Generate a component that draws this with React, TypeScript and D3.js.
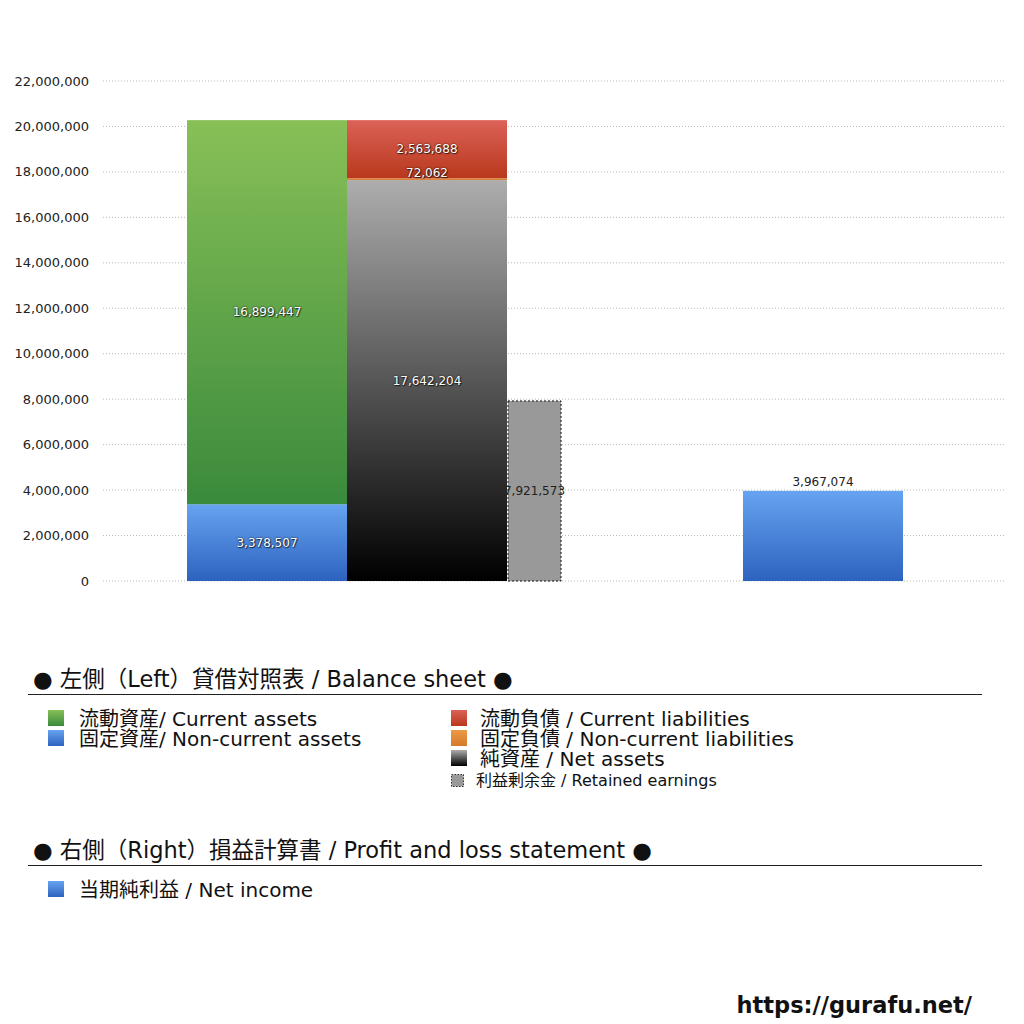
import React from "react";
import * as d3 from "d3";

// ---- data ----
const yTicks = [0, 2000000, 4000000, 6000000, 8000000, 10000000, 12000000, 14000000, 16000000, 18000000, 20000000, 22000000];
const categories = ["bs", "pl"];
const assetKeys = ["nonCurrentAssets", "currentAssets"];
const assetValues = [3378507, 16899447];
const liabilityKeys = ["netAssets", "nonCurrentLiabilities", "currentLiabilities"];
const liabilityValues = [17642204, 72062, 2563688];
const retainedEarnings = 7921573;
const netIncome = 3967074;

const bsTitle = "● 左側（Left）貸借対照表 / Balance sheet ●";
const plTitle = "● 右側（Right）損益計算書 / Profit and loss statement ●";
const leftLegend = ["流動資産/ Current assets", "固定資産/ Non-current assets"];
const rightLegend = ["流動負債 /  Current liabilities", "固定負債 / Non-current liabilities", "純資産 / Net assets"];
const retainedLegend = "利益剰余金 / Retained earnings";
const plLegend = "当期純利益 / Net income";
const footer = "https://gurafu.net/";

const gradients: Record<string, [string, string]> = {
  currentAssets: ["#88c057", "#3a8a3c"],
  nonCurrentAssets: ["#66a3f0", "#2d63bf"],
  currentLiabilities: ["#dc6258", "#b9381c"],
  nonCurrentLiabilities: ["#ec9a48", "#d5792a"],
  netAssets: ["#adadad", "#000000"],
  netIncome: ["#66a3f0", "#2d63bf"],
};

const fmt = d3.format(",");
const fontJP = "'DejaVu Sans', 'Noto Sans CJK JP', sans-serif";
const fontNum = "'DejaVu Sans', Arial, sans-serif";

export default function App() {
  const y = d3.scaleLinear().domain([0, 22000000]).range([581, 81]);
  const x = d3.scalePoint<string>().domain(categories).range([347, 823]);
  const colW = 160;
  const retW = 53;
  const gridX0 = 103;
  const gridX1 = 1005;

  const assetStack = d3.cumsum(assetValues);
  const liabStack = d3.cumsum(liabilityValues);
  const bsX = x("bs")!;
  const plX = x("pl")!;

  const whiteLabel: any = {
    fill: "#fff",
    fontFamily: fontNum,
    fontSize: 12,
    textShadow: "0 0 2px rgba(0,0,0,0.9), 1px 1px 1px rgba(0,0,0,0.6)",
  };

  const legendKeysLeft = ["currentAssets", "nonCurrentAssets"];
  const legendKeysRight = ["currentLiabilities", "nonCurrentLiabilities", "netAssets"];

  return (
    <svg width={1024} height={1024} style={{ position: "absolute", left: 0, top: 0, background: "#fff" }}>
      <defs>
        {Object.entries(gradients).map(([k, [a, b]]) => (
          <linearGradient key={k} id={"g-" + k} x1="0" y1="0" x2="0" y2="1">
            <stop offset="0%" stopColor={a} />
            <stop offset="100%" stopColor={b} />
          </linearGradient>
        ))}
      </defs>

      {/* grid + y ticks */}
      {yTicks.map((t) => (
        <g key={t}>
          <line x1={gridX0} x2={gridX1} y1={y(t)} y2={y(t)} stroke="#b8b8b8" strokeWidth={1} strokeDasharray="1,2" />
          <text x={89} y={y(t)} dy="0.35em" textAnchor="end" fontFamily={fontNum} fontSize={13} fill="#222">
            {fmt(t)}
          </text>
        </g>
      ))}

      {/* assets column */}
      {assetValues.map((v, i) => {
        const top = assetStack[i];
        const bot = top - v;
        return (
          <rect key={assetKeys[i]} x={bsX - colW} width={colW} y={y(top)} height={y(bot) - y(top)} fill={`url(#g-${assetKeys[i]})`} />
        );
      })}
      {/* liabilities column */}
      {liabilityValues.map((v, i) => {
        const top = liabStack[i];
        const bot = top - v;
        return (
          <rect key={liabilityKeys[i]} x={bsX} width={colW} y={y(top)} height={Math.max(1.5, y(bot) - y(top))} fill={`url(#g-${liabilityKeys[i]})`} />
        );
      })}
      {/* retained earnings */}
      <rect x={bsX + colW + 1} width={retW} y={y(retainedEarnings)} height={y(0) - y(retainedEarnings)} fill="#999" stroke="#111" strokeWidth={1} strokeDasharray="2,2" />
      {/* net income */}
      <rect x={plX - colW / 2} width={colW} y={y(netIncome)} height={y(0) - y(netIncome)} fill="url(#g-netIncome)" />

      {/* labels */}
      {assetValues.map((v, i) => (
        <text key={"la" + i} x={bsX - colW / 2} y={y(assetStack[i] - v / 2)} dy="0.35em" textAnchor="middle" style={whiteLabel}>
          {fmt(v)}
        </text>
      ))}
      {liabilityValues.map((v, i) => (
        <text key={"ll" + i} x={bsX + colW / 2} y={y(liabStack[i] - v / 2) - (v < 500000 ? 6 : 0)} dy="0.35em" textAnchor="middle" style={whiteLabel}>
          {fmt(v)}
        </text>
      ))}
      <text x={bsX + colW + 1 + retW / 2} y={y(retainedEarnings / 2)} dy="0.35em" textAnchor="middle" fontFamily={fontNum} fontSize={12} fill="#222">
        {fmt(retainedEarnings)}
      </text>
      <text x={plX} y={y(netIncome) - 5} textAnchor="middle" fontFamily={fontNum} fontSize={12} fill="#222">
        {fmt(netIncome)}
      </text>

      {/* legend: balance sheet */}
      <text x={33} y={687} fontFamily={fontJP} fontSize={22.5} fill="#111">{bsTitle}</text>
      <line x1={28} x2={982} y1={694.5} y2={694.5} stroke="#222" strokeWidth={1} />
      {leftLegend.map((t, i) => (
        <g key={t}>
          <rect x={48} y={710 + i * 20} width={16} height={16} fill={`url(#g-${legendKeysLeft[i]})`} />
          <text x={79} y={726 + i * 20} fontFamily={fontJP} fontSize={20} fill="#111">{t}</text>
        </g>
      ))}
      {rightLegend.map((t, i) => (
        <g key={t}>
          <rect x={451} y={710 + i * 20} width={16} height={16} fill={`url(#g-${legendKeysRight[i]})`} />
          <text x={480} y={726 + i * 20} fontFamily={fontJP} fontSize={20} fill="#111">{t}</text>
        </g>
      ))}
      <rect x={451.5} y={774.5} width={12} height={12} fill="#999" stroke="#333" strokeWidth={1} strokeDasharray="1.5,1.5" />
      <text x={476} y={786} fontFamily={fontJP} fontSize={16} fill="#111">{retainedLegend}</text>

      {/* legend: P&L */}
      <text x={33} y={858} fontFamily={fontJP} fontSize={22.5} fill="#111">{plTitle}</text>
      <line x1={28} x2={982} y1={865.5} y2={865.5} stroke="#222" strokeWidth={1} />
      <rect x={48} y={881} width={16} height={16} fill="url(#g-netIncome)" />
      <text x={79} y={897} fontFamily={fontJP} fontSize={20} fill="#111">{plLegend}</text>

      {/* footer */}
      <text x={972} y={1013} textAnchor="end" fontFamily={fontJP} fontWeight="bold" fontSize={22.5} fill="#111">{footer}</text>
    </svg>
  );
}
